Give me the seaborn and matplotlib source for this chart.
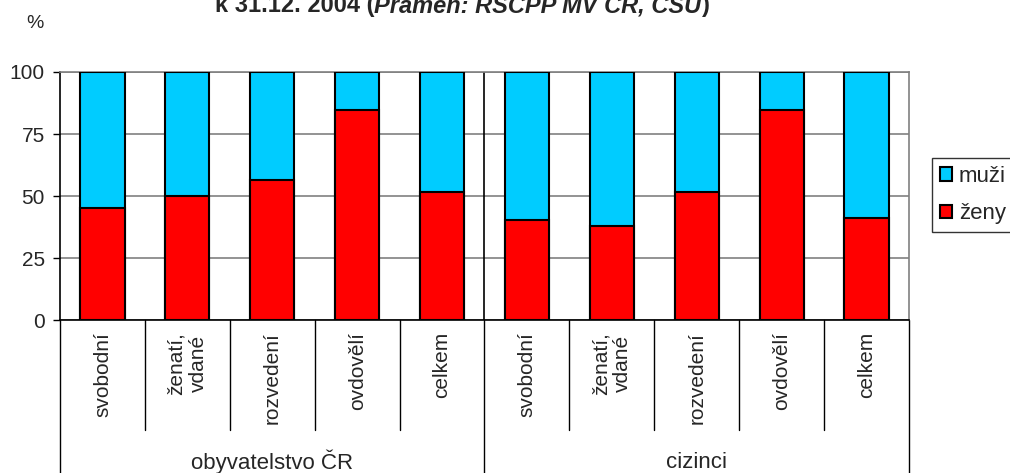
"""Struktura obyvatelstva podle rodinného stavu a pohlaví - stacked bar chart."""
import matplotlib

matplotlib.use("Agg")
import matplotlib.pyplot as plt
from matplotlib.patches import Patch
import pandas as pd
import seaborn as sns

GROUPS = ["obyvatelstvo ČR", "cizinci"]
STATUSES = ["svobodní", "ženatí,\nvdané", "rozvedení", "ovdovělí", "celkem"]
ZENY_CR = [45.0, 50.0, 56.5, 84.7, 51.6]
ZENY_CIZINCI = [40.3, 38.0, 51.6, 84.8, 41.1]
YTICKS = [0, 25, 50, 75, 100]
LEGEND_LABELS = ["muži", "ženy"]

MUZI_COLOR = "#00CCFF"
ZENY_COLOR = "#FF0000"
GRID_COLOR = "#808080"

rows = []
for group, values in zip(GROUPS, [ZENY_CR, ZENY_CIZINCI]):
    for status, zeny in zip(STATUSES, values):
        rows.append({"key": f"{group}|{status}", "status": status, "zeny": zeny, "muzi": 100 - zeny})
df = pd.DataFrame(rows)
df["total"] = df["zeny"] + df["muzi"]
order = df["key"].tolist()

sns.set_theme(style="white")
plt.rcParams["font.family"] = ["Liberation Sans", "DejaVu Sans"]

W, H = 1010, 473
fig = plt.figure(figsize=(W / 100, H / 100), dpi=100)
ax = fig.add_axes([60 / W, 1 - 320 / H, 849 / W, 248 / H])

bar_kw = dict(order=order, width=0.52, edgecolor="black", linewidth=1.5,
              saturation=1, errorbar=None, ax=ax, zorder=3)
sns.barplot(data=df, x="key", y="total", color=MUZI_COLOR, **bar_kw)
sns.barplot(data=df, x="key", y="zeny", color=ZENY_COLOR, **bar_kw)

ax.set_xlim(-0.5, len(order) - 0.5)
ax.set_ylim(0, 100)
ax.set_yticks(YTICKS)
ax.set_xticks([])
ax.set_xlabel("")
ax.set_ylabel("")
ax.yaxis.grid(True, color=GRID_COLOR, linewidth=1.2)
ax.set_axisbelow(True)
ax.tick_params(axis="y", left=True, length=5, width=1, color="black", labelsize=15, pad=6)

for side in ["top", "right"]:
    ax.spines[side].set_color(GRID_COLOR)
    ax.spines[side].set_linewidth(1.2)
for side in ["left", "bottom"]:
    ax.spines[side].set_color("black")
    ax.spines[side].set_linewidth(1.2)

# multi-level category axis below the plot
xt = ax.get_xaxis_transform()
n_status = len(STATUSES)
tick_bottom = -110 / 248
group_bottom = -153 / 248
ax.axvline(n_status - 0.5, color="black", linewidth=1.2, zorder=2)
for k in range(len(order) + 1):
    x = k - 0.5
    y_end = group_bottom if k % n_status == 0 else tick_bottom
    ax.plot([x, x], [0, y_end], transform=xt, color="black", linewidth=1, clip_on=False)

for i, status in enumerate(df["status"]):
    ax.text(i, -12 / 248, status, transform=xt, rotation=90, ha="center", va="top",
            multialignment="center", fontsize=15)

for g, group in enumerate(GROUPS):
    ax.text(g * n_status + (n_status - 1) / 2, -142 / 248, group, transform=xt,
            ha="center", va="center", fontsize=16)

fig.text(35 / W, 1 - 24 / H, "%", ha="center", va="center", fontsize=14)

# title line (cut off at the top as in the source)
t1 = fig.text(215 / W, 1 - 17 / H, "k 31.12. 2004 (", fontsize=17, weight="bold", va="bottom")
t2 = ax.annotate("Pramen: RSCPP MV ČR, ČSÚ", xy=(1, 0), xycoords=t1, va="bottom",
                 fontsize=17, weight="bold", style="italic", annotation_clip=False)
ax.annotate(")", xy=(1, 0), xycoords=t2, va="bottom", fontsize=17, weight="bold",
            annotation_clip=False)

handles = [Patch(facecolor=MUZI_COLOR, edgecolor="black", linewidth=1.5),
           Patch(facecolor=ZENY_COLOR, edgecolor="black", linewidth=1.5)]
leg = fig.legend(handles, LEGEND_LABELS, loc="upper left", bbox_to_anchor=(932 / W, 1 - 158 / H),
                 frameon=True, fancybox=False, fontsize=16, handlelength=0.55, handleheight=0.55,
                 handletextpad=0.3, labelspacing=0.75, borderpad=0.35, borderaxespad=0)
leg.get_frame().set_edgecolor("black")
leg.get_frame().set_linewidth(1)

fig.savefig("out.png", dpi=100)
